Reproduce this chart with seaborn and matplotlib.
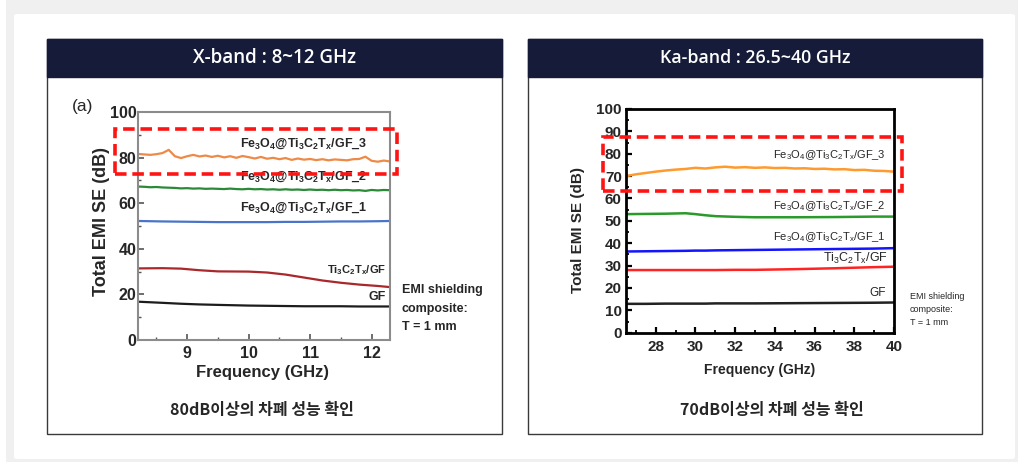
import numpy as np
import pandas as pd
import matplotlib
matplotlib.use("Agg")
import matplotlib.pyplot as plt
import matplotlib.patches as patches
from matplotlib.ticker import MultipleLocator
import seaborn as sns

# ---- data ----
# X-band panel
xb_freq_fine = [8.2, 8.3, 8.4, 8.5, 8.6, 8.7, 8.8, 8.9, 9.0, 9.1,
                9.2, 9.3, 9.4, 9.5, 9.6, 9.7, 9.8, 9.9, 10.0, 10.1,
                10.2, 10.3, 10.4, 10.5, 10.6, 10.7, 10.8, 10.9, 11.0, 11.1,
                11.2, 11.3, 11.4, 11.5, 11.6, 11.7, 11.8, 11.9, 12.0, 12.1,
                12.2, 12.3]
xb_gf3 = [81.6, 81.4, 81.2, 81.5, 82.0, 83.4, 80.6, 79.8, 80.6, 81.2,
          80.5, 80.9, 80.3, 80.8, 80.1, 80.6, 79.9, 80.7, 80.2, 79.6,
          80.3, 79.5, 79.9, 79.3, 79.8, 79.0, 79.6, 79.1, 79.4, 78.9,
          79.3, 78.8, 79.2, 79.0, 78.8, 79.3, 79.4, 80.4, 78.6, 78.2,
          78.7, 78.3]
xb_gf2 = [67.3, 67.2, 67.0, 67.1, 66.9, 66.8, 66.7, 66.5, 66.6, 66.4,
          66.5, 66.3, 66.4, 66.3, 66.2, 66.4, 66.2, 66.1, 66.3, 66.1,
          66.2, 66.0, 66.1, 65.9, 66.1, 65.9, 66.0, 65.8, 66.0, 65.8,
          65.9, 65.7, 65.9, 65.7, 65.8, 65.6, 65.7, 65.4, 65.8, 65.6,
          65.8, 65.7]
xb_freq_smooth = [8.2, 8.6, 8.9, 9.2, 9.5, 10.0, 10.3, 10.6, 10.9, 11.2,
                  11.5, 11.8, 12.1, 12.3]
xb_gf1 = [52.2, 52.0, 51.9, 51.8, 51.7, 51.7, 51.7, 51.8, 51.8, 51.9,
          52.0, 52.0, 52.1, 52.2]
xb_mxene = [31.4, 31.5, 31.3, 30.6, 30.1, 30.0, 29.6, 28.7, 27.4, 26.1,
            25.1, 24.3, 23.7, 23.2]
xb_bare = [16.8, 16.3, 15.9, 15.6, 15.4, 15.1, 15.0, 14.9, 14.8, 14.8,
           14.8, 14.7, 14.7, 14.7]

# Ka-band panel
ka_freq_fine = [26.5, 27.0, 27.5, 28.0, 28.5, 29.0, 29.5, 30.0, 30.5, 31.0,
                31.5, 32.0, 32.5, 33.0, 33.5, 34.0, 34.5, 35.0, 35.5, 36.0,
                36.5, 37.0, 37.5, 38.0, 38.5, 39.0, 39.5, 40.0]
ka_gf3 = [70.0, 70.8, 71.4, 72.0, 72.5, 72.9, 73.2, 73.7, 73.4, 73.9,
          74.2, 73.8, 74.0, 73.7, 73.9, 73.6, 73.7, 73.4, 73.5, 73.2,
          73.3, 73.0, 73.1, 72.7, 72.8, 72.4, 72.3, 72.0]
ka_freq_smooth = [26.5, 27.5, 28.5, 29.5, 30.0, 30.5, 31.0, 32.0, 33.0, 35.0,
                  37.0, 39.0, 40.0]
ka_gf2 = [53.0, 53.1, 53.2, 53.4, 53.0, 52.5, 52.1, 51.8, 51.6, 51.6,
          51.7, 51.9, 51.9]
ka_gf1 = [36.3, 36.4, 36.5, 36.6, 36.7, 36.7, 36.8, 36.9, 37.0, 37.2,
          37.4, 37.6, 37.8]
ka_mxene = [28.0, 28.0, 28.0, 28.0, 28.0, 28.0, 28.0, 28.1, 28.1, 28.4,
            28.8, 29.3, 29.5]
ka_bare = [12.9, 12.9, 13.0, 13.0, 13.0, 13.0, 13.1, 13.1, 13.1, 13.2,
           13.3, 13.4, 13.5]

series_names = ["GF_3", "GF_2", "GF_1", "MXene", "GF"]
xb_colors = ["#ee8a48", "#2b8a38", "#4a74c9", "#a9282c", "#1c1c1c"]
ka_colors = ["#ff9a2e", "#2a9a2a", "#1414ff", "#ff2424", "#222222"]

label_gf3 = "Fe$_3$O$_4$@Ti$_3$C$_2$T$_x$/GF_3"
label_gf2 = "Fe$_3$O$_4$@Ti$_3$C$_2$T$_x$/GF_2"
label_gf1 = "Fe$_3$O$_4$@Ti$_3$C$_2$T$_x$/GF_1"
label_mxene = "Ti$_3$C$_2$T$_x$/GF"
label_bare = "GF"


def long_table(freqs, values):
    rows = []
    for name, f, v in zip(series_names, freqs, values):
        rows.append(pd.DataFrame({"freq": f, "se": v, "sample": name}))
    return pd.concat(rows, ignore_index=True)


xb_df = long_table([xb_freq_fine, xb_freq_fine, xb_freq_smooth, xb_freq_smooth, xb_freq_smooth],
                   [xb_gf3, xb_gf2, xb_gf1, xb_mxene, xb_bare])
ka_df = long_table([ka_freq_fine, ka_freq_smooth, ka_freq_smooth, ka_freq_smooth, ka_freq_smooth],
                   [ka_gf3, ka_gf2, ka_gf1, ka_mxene, ka_bare])

sns.set_style("white")
plt.rcParams["font.family"] = ["Liberation Sans", "DejaVu Sans"]
plt.rcParams["mathtext.default"] = "regular"

W, H = 1018, 462
fig = plt.figure(figsize=(W / 100, H / 100), dpi=100)


def fx(x):
    return x / W


def fy(y):
    return 1 - y / H


# page frame
fig.patches.append(patches.Rectangle((fx(6), fy(470)), fx(1030), 470 / H, transform=fig.transFigure,
                                     facecolor="#f0f0f0", edgecolor="none", zorder=0))
fig.patches.append(patches.FancyBboxPatch((fx(14), fy(459)), fx(1001), 445 / H,
                                          boxstyle="round,pad=0,rounding_size=0.004",
                                          transform=fig.transFigure, facecolor="white",
                                          edgecolor="none", zorder=0))

panels = [(47, 502, "X-band : 8~12 GHz", "80dB이상의 차폐 성능 확인", 13.5),
          (528, 982, "Ka-band : 26.5~40 GHz", "70dB이상의 차폐 성능 확인", 12.8)]
for x0, x1, head, caption, hsize in panels:
    fig.patches.append(patches.Rectangle((fx(x0), fy(434)), fx(x1 - x0), 395 / H, transform=fig.transFigure,
                                         facecolor="white", edgecolor="#3a3a3a", lw=1, zorder=1))
    fig.patches.append(patches.Rectangle((fx(x0), fy(77)), fx(x1 - x0), 38 / H, transform=fig.transFigure,
                                         facecolor="#161b3a", edgecolor="#161b3a", lw=1, zorder=2))
    fig.text(fx((x0 + x1) / 2), fy(58), head, color="white", fontsize=hsize, ha="center", va="center",
             family=["Open Sans", "DejaVu Sans"], weight="semibold", zorder=3)

fig.text(fx(262), fy(410), panels[0][3], fontsize=11.5, ha="center", va="center",
         family=["Noto Sans CJK KR", "DejaVu Sans"], weight="bold")
fig.text(fx(772), fy(410), panels[1][3], fontsize=11.5, ha="center", va="center",
         family=["Noto Sans CJK KR", "DejaVu Sans"], weight="bold")

# ---- X-band axes ----
ax1 = fig.add_axes([fx(138), fy(340), fx(252), 228 / H])
ax1.set_zorder(10)
sns.lineplot(data=xb_df, x="freq", y="se", hue="sample", hue_order=series_names,
             palette=xb_colors, legend=False, lw=1.6, ax=ax1, estimator=None, sort=False)
ax1.set_xlim(8.2, 12.3)
ax1.set_ylim(0, 100)
ax1.xaxis.set_major_locator(MultipleLocator(1))
ax1.xaxis.set_minor_locator(MultipleLocator(0.5))
ax1.yaxis.set_major_locator(MultipleLocator(20))
ax1.yaxis.set_minor_locator(MultipleLocator(10))
ax1.tick_params(which="both", direction="in", bottom=True, left=True, top=False, right=False,
                labelsize=11.5, color="#555555")
ax1.tick_params(which="major", length=4, width=1.2)
ax1.tick_params(which="minor", length=2.5, width=1)
ax1.tick_params(axis="x", pad=4)
ax1.tick_params(axis="y", pad=1)
for lab in ax1.get_xticklabels() + ax1.get_yticklabels():
    lab.set_fontweight("bold")
for sp in ax1.spines.values():
    sp.set_color("#8c8c8c")
    sp.set_linewidth(1.5)
ax1.set_xlabel("")
ax1.set_ylabel("")
fig.text(fx(262), fy(373), "Frequency (GHz)", fontsize=12, weight="bold", ha="center", va="center")
fig.text(fx(101), fy(222), "Total EMI SE (dB)", fontsize=13, weight="bold", ha="center", va="center",
         rotation=90)
fig.text(fx(83), fy(107), "(a)", fontsize=12.5, ha="center", va="center")

ax1.text(11.93, 86, label_gf3, fontsize=9, weight="bold", ha="right", va="center")
ax1.text(11.93, 71.6, label_gf2, fontsize=9, weight="bold", ha="right", va="center")
ax1.text(11.93, 58, label_gf1, fontsize=9, weight="bold", ha="right", va="center")
ax1.text(12.23, 30.7, label_mxene, fontsize=8, weight="bold", ha="right", va="center")
ax1.text(12.23, 19, label_bare, fontsize=9, weight="bold", ha="right", va="center")
fig.text(fx(402), fy(284), "EMI shielding\ncomposite:\nT = 1 mm", fontsize=9, weight="bold",
         ha="left", va="top", linespacing=1.75)
ax1.add_patch(patches.Rectangle((7.83, 72.8), 12.41 - 7.83, 92.5 - 72.8, fill=False,
                                edgecolor="#ff1414", lw=2.6, ls=(0, (3.2, 1.6)), clip_on=False, zorder=5))

# ---- Ka-band axes ----
ax2 = fig.add_axes([fx(626), fy(332.7), fx(268), 223.7 / H])
ax2.set_zorder(10)
sns.lineplot(data=ka_df, x="freq", y="se", hue="sample", hue_order=series_names,
             palette=ka_colors, legend=False, lw=1.8, ax=ax2, estimator=None, sort=False)
ax2.set_xlim(26.5, 40)
ax2.set_ylim(0, 100)
ax2.xaxis.set_major_locator(MultipleLocator(2))
ax2.xaxis.set_minor_locator(MultipleLocator(1))
ax2.yaxis.set_major_locator(MultipleLocator(10))
ax2.yaxis.set_minor_locator(MultipleLocator(5))
ax2.tick_params(which="both", direction="in", bottom=True, left=True, top=False, right=False,
                labelsize=11, color="black")
ax2.tick_params(which="major", length=4, width=1.6)
ax2.tick_params(which="minor", length=2.5, width=1.3)
ax2.tick_params(axis="x", pad=5)
ax2.tick_params(axis="y", pad=3)
for lab in ax2.get_xticklabels() + ax2.get_yticklabels():
    lab.set_fontweight("bold")
for sp in ax2.spines.values():
    sp.set_color("black")
    sp.set_linewidth(2)
ax2.set_xlabel("")
ax2.set_ylabel("")
fig.text(fx(760), fy(370), "Frequency (GHz)", fontsize=10, weight="bold", ha="center", va="center")
fig.text(fx(578), fy(230), "Total EMI SE (dB)", fontsize=11, weight="bold", ha="center", va="center",
         rotation=90)

ax2.text(39.6, 79.4, label_gf3, fontsize=8, ha="right", va="center")
ax2.text(39.6, 56.6, label_gf2, fontsize=8, ha="right", va="center")
ax2.text(39.6, 42.9, label_gf1, fontsize=8, ha="right", va="center")
ax2.text(39.7, 33, label_mxene, fontsize=9, ha="right", va="center")
ax2.text(39.6, 17.6, label_bare, fontsize=8.5, ha="right", va="center")
fig.text(fx(910), fy(292), "EMI shielding\ncomposite:\nT = 1 mm", fontsize=6.5, ha="left", va="top",
         linespacing=1.6)
ax2.add_patch(patches.Rectangle((25.35, 63.5), 40.39 - 25.35, 87.3 - 63.5, fill=False,
                                edgecolor="#ff1414", lw=2.6, ls=(0, (3.2, 1.6)), clip_on=False, zorder=5))

fig.savefig("out.png", dpi=100)
